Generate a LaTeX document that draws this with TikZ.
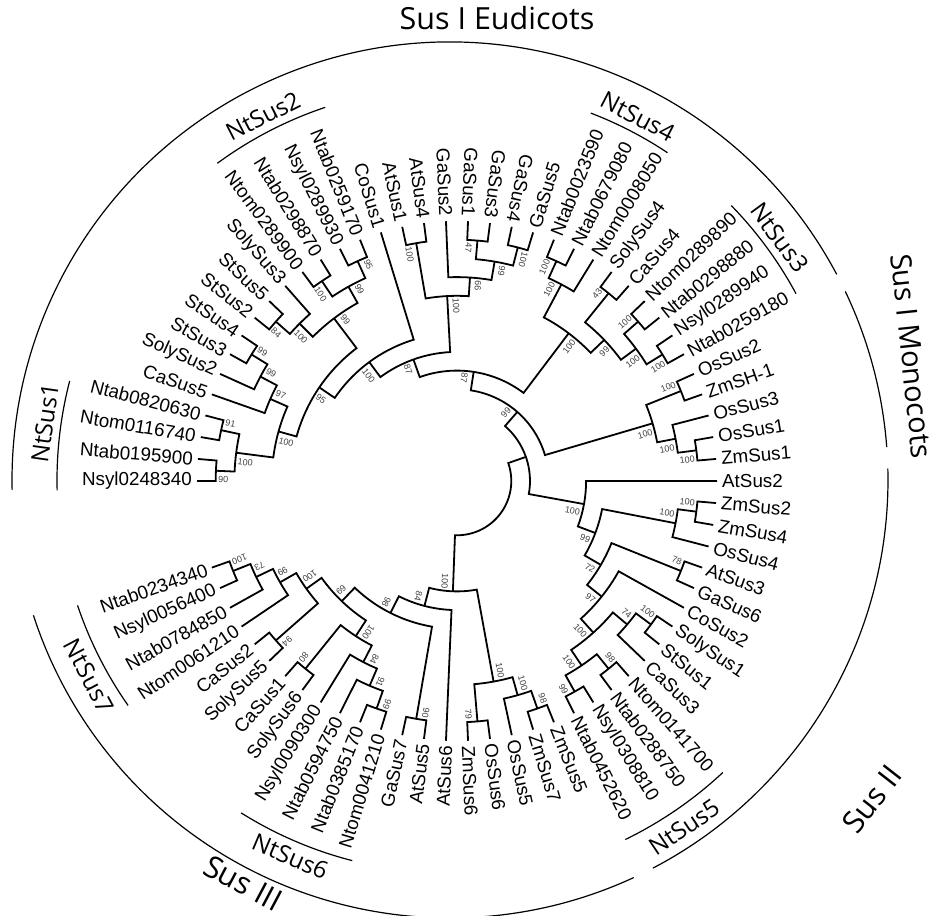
\documentclass[tikz,border=0pt]{standalone}
\usepackage{fontspec}
\setmainfont{Liberation Sans}
\newfontfamily\cladefont{Open Sans}
\tikzset{
  branch/.style={line width=1.8pt, line join=miter},
  leaflab/.style={font=\fontsize{18.8}{20}\selectfont, inner sep=0pt},
  suplab/.style={font=\fontsize{9}{10}\selectfont, text=black!75, inner xsep=1pt, inner ysep=5pt},
  grparc/.style={line width=1.2pt},
  cladearc/.style={line width=1.2pt},
  grplab/.style={font=\cladefont\fontsize{30.5}{34}\selectfont, inner sep=0pt},
  cladelab/.style={font=\cladefont\fontsize{24}{26}\selectfont, inner sep=0pt},
}
\def\Lstep{4.864865}
\def\RLeaf{260}
\def\RDelta{18.7}
\def\RLabel{265}
\makeatletter
\newcommand\SetLeaf[3]{%
  \pgfmathsetmacro\tr@a{#2*\Lstep}%
  \expandafter\xdef\csname tA@#1\endcsname{\tr@a}%
  \expandafter\xdef\csname tH@#1\endcsname{0}%
  \expandafter\gdef\csname tS@#1\endcsname{}%
  \coordinate (#1) at (\tr@a:\RLeaf);%
  \pgfmathtruncatemacro\tr@f{(cos(\tr@a)<0) || (\tr@a>75) ? 1 : 0}%
  \ifnum\tr@f=1
    \pgfmathsetmacro\tr@rot{\tr@a+180}%
    \node[leaflab,anchor=east,rotate=\tr@rot] (#1-lab) at (\tr@a:\RLabel) {#3};%
  \else
    \node[leaflab,anchor=west,rotate=\tr@a] (#1-lab) at (\tr@a:\RLabel) {#3};%
  \fi
}
\newcommand\tr@label[2]{%
  \edef\tr@s{\csname tS@#1\endcsname}%
  \ifx\tr@s\@empty\else
    \edef\tr@la{\csname tA@#1\endcsname}%
    \edef\tr@lh{\csname tH@#1\endcsname}%
    \pgfmathsetmacro\tr@lr{\RLeaf-\RDelta*\tr@lh-1.5}%
    \pgfmathtruncatemacro\tr@lf{\tr@la>75 ? 1 : 0}%
    \ifnum\tr@lf=1
      \pgfmathsetmacro\tr@rot{\tr@la-180}%
      \ifnum#2=1 \def\tr@anc{north west}\else\def\tr@anc{south west}\fi
    \else
      \pgfmathsetmacro\tr@rot{\tr@la}%
      \ifnum#2=1 \def\tr@anc{south east}\else\def\tr@anc{north east}\fi
    \fi
    \node[suplab,anchor=\tr@anc,rotate=\tr@rot] (#1-bs) at (\tr@la:\tr@lr) {\tr@s};%
  \fi
}
\newcommand\SetNode[4]{%
  \edef\tr@ca{\csname tA@#2\endcsname}%
  \edef\tr@cb{\csname tA@#3\endcsname}%
  \edef\tr@ha{\csname tH@#2\endcsname}%
  \edef\tr@hb{\csname tH@#3\endcsname}%
  \pgfmathsetmacro\tr@a{(\tr@ca+\tr@cb)/2}%
  \pgfmathtruncatemacro\tr@h{max(\tr@ha,\tr@hb)+1}%
  \expandafter\xdef\csname tA@#1\endcsname{\tr@a}%
  \expandafter\xdef\csname tH@#1\endcsname{\tr@h}%
  \expandafter\gdef\csname tS@#1\endcsname{#4}%
  \pgfmathsetmacro\tr@r{\RLeaf-\RDelta*\tr@h}%
  \pgfmathsetmacro\tr@ra{\RLeaf-\RDelta*\tr@ha}%
  \pgfmathsetmacro\tr@rb{\RLeaf-\RDelta*\tr@hb}%
  \coordinate (#1) at (\tr@a:\tr@r);%
  \draw[branch] (\tr@ca:\tr@ra) -- (\tr@ca:\tr@r) arc[start angle=\tr@ca, end angle=\tr@cb, radius=\tr@r] -- (\tr@cb:\tr@rb);%
  \pgfmathtruncatemacro\tr@cmp{\tr@ca>\tr@cb ? 1 : 0}%
  \ifnum\tr@cmp=1
    \tr@label{#2}{1}\tr@label{#3}{0}%
  \else
    \tr@label{#2}{0}\tr@label{#3}{1}%
  \fi
}
\makeatother
\begin{document}
\begin{tikzpicture}[x=1pt,y=1pt]
\useasboundingbox (-457,-435) rectangle (473,481);
% ---- leaves
\SetLeaf{AtSus2}{0}{AtSus2}
\SetLeaf{ZmSus1}{1}{ZmSus1}
\SetLeaf{OsSus1}{2}{OsSus1}
\SetLeaf{OsSus3}{3}{OsSus3}
\SetLeaf{ZmSH1}{4}{ZmSH-1}
\SetLeaf{OsSus2}{5}{OsSus2}
\SetLeaf{Ntab0259180}{6}{Ntab0259180}
\SetLeaf{Nsyl0289940}{7}{Nsyl0289940}
\SetLeaf{Ntab0298880}{8}{Ntab0298880}
\SetLeaf{Ntom0289890}{9}{Ntom0289890}
\SetLeaf{CaSus4}{10}{CaSus4}
\SetLeaf{SolySus4}{11}{SolySus4}
\SetLeaf{Ntom0008050}{12}{Ntom0008050}
\SetLeaf{Ntab0679080}{13}{Ntab0679080}
\SetLeaf{Ntab0023590}{14}{Ntab0023590}
\SetLeaf{GaSus5}{15}{GaSus5}
\SetLeaf{GaSus4}{16}{GaSus4}
\SetLeaf{GaSus3}{17}{GaSus3}
\SetLeaf{GaSus1}{18}{GaSus1}
\SetLeaf{GaSus2}{19}{GaSus2}
\SetLeaf{AtSus4}{20}{AtSus4}
\SetLeaf{AtSus1}{21}{AtSus1}
\SetLeaf{CoSus1}{22}{CoSus1}
\SetLeaf{Ntab0259170}{23}{Ntab0259170}
\SetLeaf{Nsyl0289930}{24}{Nsyl0289930}
\SetLeaf{Ntab0298870}{25}{Ntab0298870}
\SetLeaf{Ntom0289900}{26}{Ntom0289900}
\SetLeaf{SolySus3}{27}{SolySus3}
\SetLeaf{StSus5}{28}{StSus5}
\SetLeaf{StSus2}{29}{StSus2}
\SetLeaf{StSus4}{30}{StSus4}
\SetLeaf{StSus3}{31}{StSus3}
\SetLeaf{SolySus2}{32}{SolySus2}
\SetLeaf{CaSus5}{33}{CaSus5}
\SetLeaf{Ntab0820630}{34}{Ntab0820630}
\SetLeaf{Ntom0116740}{35}{Ntom0116740}
\SetLeaf{Ntab0195900}{36}{Ntab0195900}
\SetLeaf{Nsyl0248340}{37}{Nsyl0248340}
\SetLeaf{Ntab0234340}{-33}{Ntab0234340}
\SetLeaf{Nsyl0056400}{-32}{Nsyl0056400}
\SetLeaf{Ntab0784850}{-31}{Ntab0784850}
\SetLeaf{Ntom0061210}{-30}{Ntom0061210}
\SetLeaf{CaSus2}{-29}{CaSus2}
\SetLeaf{SolySus5}{-28}{SolySus5}
\SetLeaf{CaSus1}{-27}{CaSus1}
\SetLeaf{SolySus6}{-26}{SolySus6}
\SetLeaf{Nsyl0090300}{-25}{Nsyl0090300}
\SetLeaf{Ntab0594750}{-24}{Ntab0594750}
\SetLeaf{Ntab0385170}{-23}{Ntab0385170}
\SetLeaf{Ntom0041210}{-22}{Ntom0041210}
\SetLeaf{GaSus7}{-21}{GaSus7}
\SetLeaf{AtSus5}{-20}{AtSus5}
\SetLeaf{AtSus6}{-19}{AtSus6}
\SetLeaf{ZmSus6}{-18}{ZmSus6}
\SetLeaf{OsSus6}{-17}{OsSus6}
\SetLeaf{OsSus5}{-16}{OsSus5}
\SetLeaf{ZmSus7}{-15}{ZmSus7}
\SetLeaf{ZmSus5}{-14}{ZmSus5}
\SetLeaf{Ntab0452620}{-13}{Ntab0452620}
\SetLeaf{Nsyl0308810}{-12}{Nsyl0308810}
\SetLeaf{Ntab0288750}{-11}{Ntab0288750}
\SetLeaf{Ntom0141700}{-10}{Ntom0141700}
\SetLeaf{CaSus3}{-9}{CaSus3}
\SetLeaf{StSus1}{-8}{StSus1}
\SetLeaf{SolySus1}{-7}{SolySus1}
\SetLeaf{CoSus2}{-6}{CoSus2}
\SetLeaf{GaSus6}{-5}{GaSus6}
\SetLeaf{AtSus3}{-4}{AtSus3}
\SetLeaf{OsSus4}{-3}{OsSus4}
\SetLeaf{ZmSus4}{-2}{ZmSus4}
\SetLeaf{ZmSus2}{-1}{ZmSus2}
% ---- Sus II
\SetNode{ma}{ZmSus2}{ZmSus4}{100}
\SetNode{mb}{ma}{OsSus4}{100}
\SetNode{mc}{AtSus3}{GaSus6}{78}
\SetNode{md}{SolySus1}{StSus1}{100}
\SetNode{me}{md}{CaSus3}{74}
\SetNode{mf}{Ntom0141700}{Ntab0288750}{98}
\SetNode{mg}{Nsyl0308810}{Ntab0452620}{99}
\SetNode{mh}{mg}{mf}{100}
\SetNode{mi}{mh}{me}{100}
\SetNode{mj}{mi}{CoSus2}{97}
\SetNode{mk}{mj}{mc}{72}
\SetNode{ml}{mk}{mb}{99}
\SetNode{SusII}{ml}{AtSus2}{100}
% ---- Sus I monocots
\SetNode{pa}{OsSus2}{ZmSH1}{100}
\SetNode{pb}{OsSus1}{ZmSus1}{100}
\SetNode{pc}{OsSus3}{pb}{100}
\SetNode{MonoI}{pa}{pc}{100}
% ---- NtSus3 / NtSus4
\SetNode{qa}{Ntab0023590}{Ntab0679080}{100}
\SetNode{qb}{qa}{Ntom0008050}{100}
\SetNode{qc}{SolySus4}{CaSus4}{43}
\SetNode{qd}{Ntom0289890}{Ntab0298880}{100}
\SetNode{qe}{Nsyl0289940}{Ntab0259180}{100}
\SetNode{qf}{qd}{qe}{100}
\SetNode{qg}{qc}{qf}{99}
\SetNode{qh}{qb}{qg}{100}
% ---- GaSus / AtSus
\SetNode{ga}{GaSus1}{GaSus3}{47}
\SetNode{gb}{GaSus4}{GaSus5}{100}
\SetNode{gc}{ga}{gb}{99}
\SetNode{gd}{GaSus2}{gc}{66}
\SetNode{ha}{AtSus1}{AtSus4}{100}
\SetNode{hb}{ha}{gd}{100}
% ---- NtSus2 / NtSus1
\SetNode{ka}{Ntab0259170}{Nsyl0289930}{95}
\SetNode{kb}{Ntab0298870}{Ntom0289900}{100}
\SetNode{kc}{ka}{kb}{99}
\SetNode{kd}{StSus5}{StSus2}{84}
\SetNode{ke}{SolySus3}{kd}{100}
\SetNode{kf}{ke}{kc}{99}
\SetNode{kg}{StSus4}{StSus3}{99}
\SetNode{kh}{kg}{SolySus2}{99}
\SetNode{ki}{kh}{CaSus5}{97}
\SetNode{ja}{Ntab0820630}{Ntom0116740}{91}
\SetNode{jb}{Ntab0195900}{Nsyl0248340}{90}
\SetNode{jc}{ja}{jb}{100}
\SetNode{jd}{ki}{jc}{100}
\SetNode{kx}{jd}{kf}{95}
\SetNode{co}{kx}{CoSus1}{100}
\SetNode{up}{co}{hb}{87}
\SetNode{Eud}{up}{qh}{87}
\SetNode{SusI}{Eud}{MonoI}{99}
\SetNode{X}{SusII}{SusI}{}
% ---- Sus III
\SetNode{na}{Ntab0234340}{Nsyl0056400}{100}
\SetNode{nb}{na}{Ntab0784850}{73}
\SetNode{nc}{nb}{Ntom0061210}{99}
\SetNode{nd}{CaSus2}{SolySus5}{94}
\SetNode{ne}{nc}{nd}{100}
\SetNode{nf}{CaSus1}{SolySus6}{80}
\SetNode{ng}{Ntab0385170}{Ntom0041210}{99}
\SetNode{nh}{Ntab0594750}{ng}{91}
\SetNode{ni}{Nsyl0090300}{nh}{84}
\SetNode{nj}{nf}{ni}{100}
\SetNode{nk}{ne}{nj}{69}
\SetNode{nl}{GaSus7}{AtSus5}{90}
\SetNode{nm}{nk}{nl}{98}
\SetNode{nn}{nm}{AtSus6}{84}
\SetNode{no}{ZmSus6}{OsSus6}{79}
\SetNode{np}{ZmSus7}{ZmSus5}{98}
\SetNode{nq}{OsSus5}{np}{100}
\SetNode{nr}{no}{nq}{100}
\SetNode{SusIII}{nn}{nr}{100}
\SetNode{root}{SusIII}{X}{}
% ---- clade annotations
\coordinate (G) at (-7,1);
\draw[grparc] ([shift={(G)}]28:438) arc[start angle=28, end angle=181.3, radius=438];
\draw[grparc] ([shift={(G)}]4.3:438) arc[start angle=4.3, end angle=25.5, radius=438];
\draw[grparc] ([shift={(G)}]1.5:438) arc[start angle=1.5, end angle=-62.4, radius=438];
\draw[grparc] ([shift={(G)}]-65.2:438) arc[start angle=-65.2, end angle=-162, radius=438];
\draw[cladearc] ([shift={(G)}]165.4:393) arc[start angle=165.4, end angle=181.5, radius=393];
\draw[cladearc] ([shift={(G)}]108.5:393) arc[start angle=108.5, end angle=126.3, radius=393];
\draw[cladearc] ([shift={(G)}]28.3:393) arc[start angle=28.3, end angle=44.3, radius=393];
\draw[cladearc] ([shift={(G)}]56.4:393) arc[start angle=56.4, end angle=69, radius=393];
\draw[cladearc] ([shift={(G)}]-64:400) arc[start angle=-64, end angle=-47, radius=400];
\draw[cladearc] ([shift={(G)}]-122.1:393) arc[start angle=-122.1, end angle=-104.4, radius=393];
\draw[cladearc] ([shift={(G)}]-161.4:393) arc[start angle=-161.4, end angle=-145, radius=393];
\node[grplab] (gEud) at (40,463) {Sus I Eudicots};
\node[grplab,rotate=-84,font=\cladefont\fontsize{29}{32}\selectfont] (gMono) at (455,125) {Sus I Monocots};
\node[grplab,rotate=52] (gII) at (415,-318) {Sus II};
\node[grplab,rotate=-28] (gIII) at (-214,-402) {Sus III};
\node[cladelab,rotate=82] (c1) at ([shift={(G)}]172:409) {NtSus1};
\node[cladelab,rotate=27] (c2) at ([shift={(G)}]117.2:409) {NtSus2};
\node[cladelab,rotate=-53.7] (c3) at ([shift={(G)}]36.3:409) {NtSus3};
\node[cladelab,rotate=-27.3] (c4) at ([shift={(G)}]62.7:409) {NtSus4};
\node[cladelab,rotate=34] (c5) at ([shift={(G)}]-56:419) {NtSus5};
\node[cladelab,rotate=-23] (c6) at ([shift={(G)}]-113:409) {NtSus6};
\node[cladelab,rotate=-62] (c7) at ([shift={(G)}]-151.5:411) {NtSus7};
\end{tikzpicture}
\end{document}
